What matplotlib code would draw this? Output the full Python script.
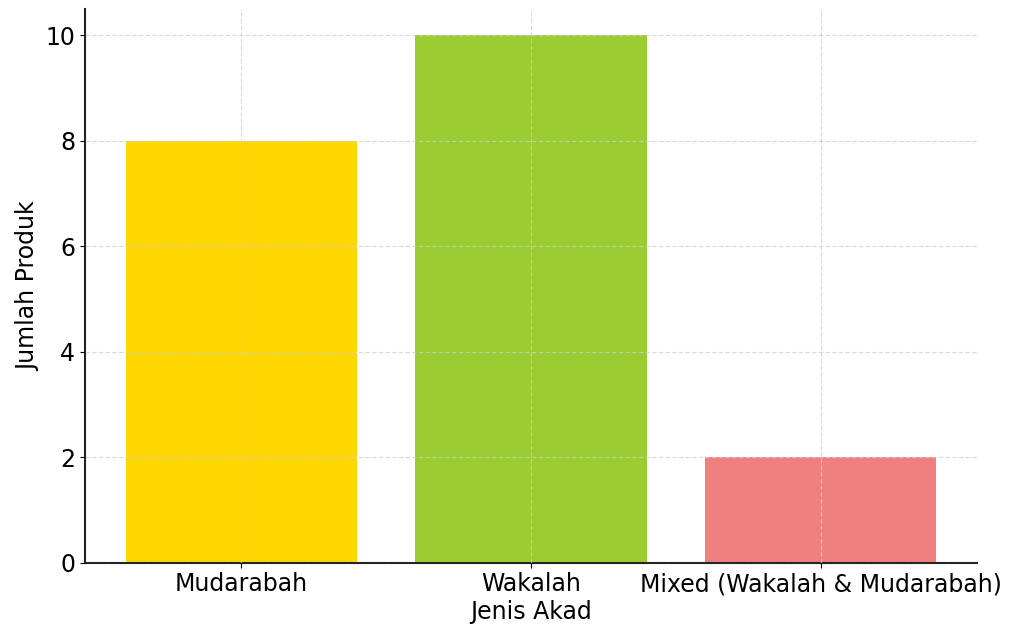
import matplotlib
matplotlib.use("Agg")
import matplotlib.pyplot as plt

# data
akad = ["Mudarabah", "Wakalah", "Mixed (Wakalah & Mudarabah)"]
jumlah = [8, 10, 2]
colors = ["gold", "yellowgreen", "lightcoral"]

fig, ax = plt.subplots(figsize=(10.13, 6.32), dpi=100)
fig.subplots_adjust(left=85/1013, right=977/1013, top=1 - 9/632, bottom=1 - 563/632)

ax.bar(akad, jumlah, color=colors, width=0.8, zorder=1)

ax.set_xlabel("Jenis Akad", fontsize=17, labelpad=3)
ax.set_ylabel("Jumlah Produk", fontsize=17, labelpad=4)
ax.tick_params(axis="both", labelsize=17)
ax.tick_params(axis="x", pad=3)

# grid sits on top of the bars, like the original
ax.set_axisbelow(False)
ax.grid(True, linestyle=(0, (4, 2)), color="#cfcfcf", linewidth=0.8, alpha=0.8)
ax.spines["top"].set_visible(False)
ax.spines["right"].set_visible(False)
ax.spines["left"].set_linewidth(1.5)
ax.spines["bottom"].set_linewidth(1.5)
ax.spines["left"].set_color("#222222")
ax.spines["bottom"].set_color("#222222")

fig.savefig("out.png", dpi=100)
